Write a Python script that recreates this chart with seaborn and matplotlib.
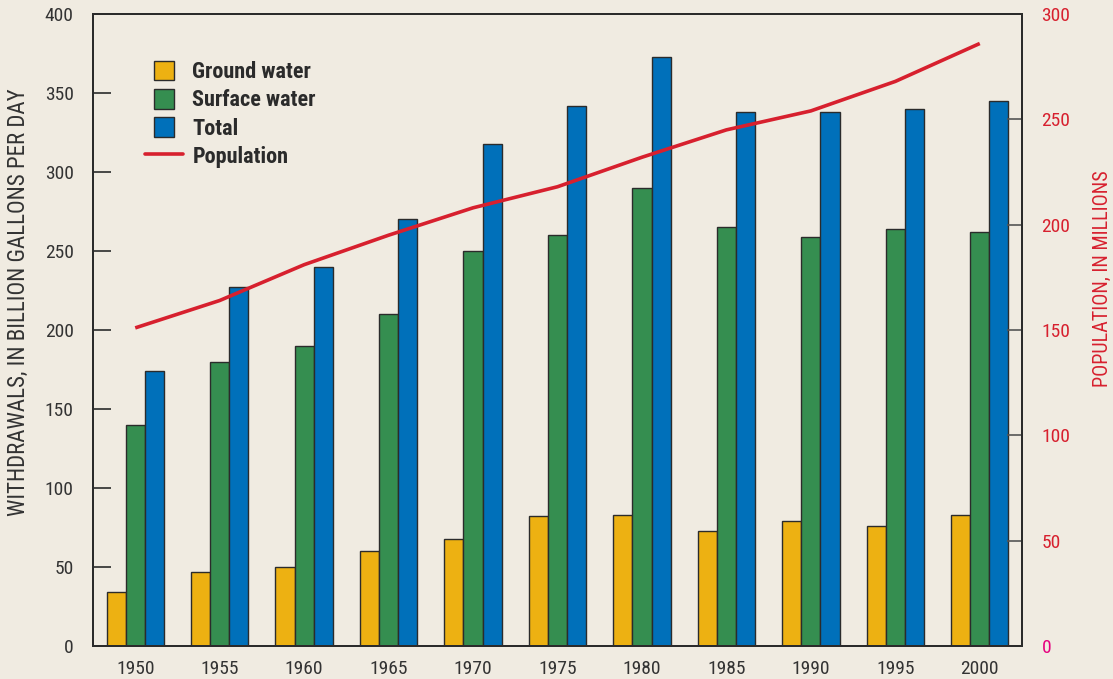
import numpy as np
import pandas as pd
import matplotlib
matplotlib.use("Agg")
import matplotlib.pyplot as plt
import seaborn as sns
from matplotlib.patches import Patch, Rectangle
from matplotlib.lines import Line2D
from matplotlib.legend_handler import HandlerPatch

years = ["1950", "1955", "1960", "1965", "1970", "1975", "1980", "1985", "1990", "1995", "2000"]
ground_water = [34, 47, 50, 60, 68, 82, 83, 73, 79, 76, 83]
surface_water = [140, 180, 190, 210, 250, 260, 290, 265, 259, 264, 262]
total = [174, 227, 240, 270, 318, 342, 373, 338, 338, 340, 345]
population = [151, 164, 181, 195, 208, 218, 232, 245, 254, 268, 286]

series_names = ["Ground water", "Surface water", "Total"]
colors = {"Ground water": "#EDB112", "Surface water": "#358E50", "Total": "#0070BA"}
red = "#D7202E"
bg = "#F0EBE1"
ink = "#2B2B2B"

df = pd.DataFrame({
    "year": years * 3,
    "value": ground_water + surface_water + total,
    "series": [s for s in series_names for _ in years],
})

sns.set_theme(style="white")
plt.rcParams["font.family"] = ["Roboto Condensed", "IBM Plex Sans Condensed", "DejaVu Sans"]

fig = plt.figure(figsize=(11.13, 6.79), dpi=100, facecolor=bg)
ax = fig.add_axes([93 / 1113, 1 - 646 / 679, 929 / 1113, 632 / 679])
ax.set_facecolor(bg)

sns.barplot(data=df, x="year", y="value", hue="series", hue_order=series_names,
            palette=colors, width=0.68, edgecolor=ink, linewidth=1.0,
            saturation=1, ax=ax, legend=False)

ax.set_xlim(-0.5, len(years) - 0.5)
ax.set_ylim(0, 400)
ax.set_yticks(range(0, 401, 50))
ax.set_xlabel("")
ax.set_ylabel("WITHDRAWALS, IN BILLION GALLONS PER DAY", fontsize=16.5, color="#333333")
ax.yaxis.set_label_coords(-0.0678, 0.544)
ax.tick_params(axis="y", direction="in", length=13, width=1.2, color=ink, pad=14,
               labelsize=14, labelcolor="#333333", left=True)
ax.tick_params(axis="x", length=0, pad=10, labelsize=14, labelcolor="#333333")
for sp in ax.spines.values():
    sp.set_color(ink)
    sp.set_linewidth(1.4)

ax2 = ax.twinx()
ax2.plot(np.arange(len(years)), population, color=red, linewidth=2.6, solid_capstyle="butt")
ax2.set_ylim(0, 300)
ax2.set_yticks(range(0, 301, 50))
ax2.tick_params(axis="y", direction="in", length=11, width=1.2, color="#555555", pad=14,
                labelsize=14, labelcolor=red, right=True)
ax2.get_yticklabels()[0].set_color("#E6007E")
ax2.set_ylabel("POPULATION, IN MILLIONS", fontsize=14.5, color=red)
ax2.yaxis.set_label_coords(1.0764, 0.582)
for sp in ax2.spines.values():
    sp.set_color(ink)
    sp.set_linewidth(1.4)


def square_swatch(legend, orig_handle, xdescent, ydescent, width, height, fontsize):
    side = height * 1.1
    return Rectangle((xdescent + 0.25 * width, -ydescent - 0.05 * height), side, side)


handles = [Patch(facecolor=colors[s], edgecolor=ink, linewidth=1.0) for s in series_names]
handles.append(Line2D([0], [0], color=red, linewidth=2.6))
labels = series_names + ["Population"]
leg = ax2.legend(handles, labels, loc="upper left", bbox_to_anchor=(0.034, 0.957),
                 frameon=False, fontsize=16, handlelength=1.75, handleheight=0.88,
                 handletextpad=0.4, labelspacing=0.28,
                 handler_map={Patch: HandlerPatch(patch_func=square_swatch)})
for t in leg.get_texts():
    t.set_fontweight("bold")
    t.set_color(ink)

fig.savefig("out.png", dpi=100, facecolor=bg)
